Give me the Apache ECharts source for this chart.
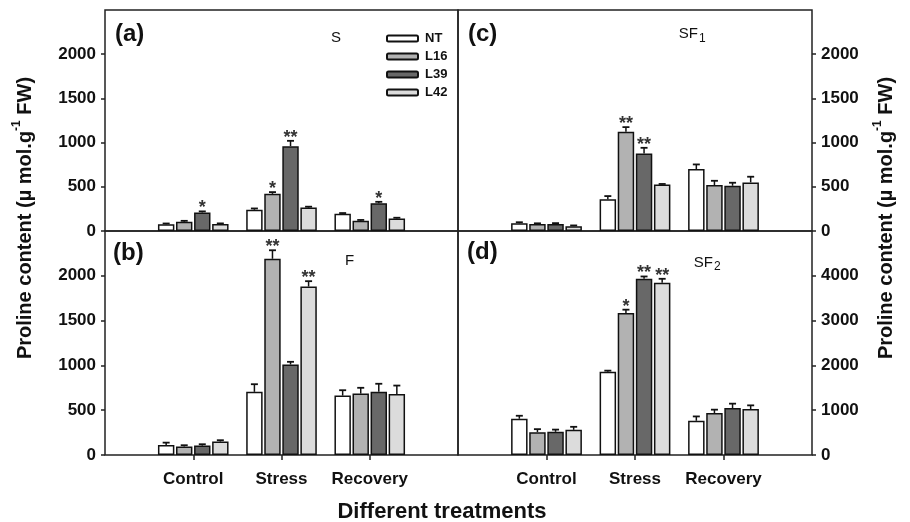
<!DOCTYPE html>
<html>
<head>
<meta charset="utf-8">
<script src="https://cdn.jsdelivr.net/npm/echarts@6/dist/echarts.min.js"></script>
<style>
  html, body { margin: 0; padding: 0; background: #ffffff; }
  #chart { width: 910px; height: 522px; }
</style>
</head>
<body>
<div id="chart"></div>
<script>
// ---------- DATA ----------
const categories = ['', 'Control', 'Stress', 'Recovery', ''];
const lineNames = ['NT', 'L16', 'L39', 'L42'];
const panelLetters = ['(a)', '(b)', '(c)', '(d)'];

// values per line [Control, Stress, Recovery]
const S_values  = [[75, 240, 195], [105, 420, 115], [210, 960, 315], [78, 265, 140]];
const S_errors  = [[10, 15, 8], [10, 20, 10], [12, 60, 15], [8, 10, 10]];
const S_stars   = [['', '', ''], ['', '*', ''], ['*', '**', '*'], ['', '', '']];

const F_values  = [[113, 705, 663], [94, 2190, 685], [105, 1010, 705], [150, 1880, 682]];
const F_errors  = [[25, 85, 60], [15, 95, 65], [15, 30, 90], [15, 60, 93]];
const F_stars   = [['', '', ''], ['', '**', ''], ['', '', ''], ['', '**', '']];

const SF1_values = [[87, 358, 700], [79, 1122, 520], [79, 878, 512], [55, 527, 550]];
const SF1_errors = [[12, 37, 53], [8, 53, 48], [10, 63, 34], [8, 5, 64]];
const SF1_stars  = [['', '', ''], ['', '**', ''], ['', '**', ''], ['', '', '']];

const SF2_values = [[809, 1858, 764], [510, 3169, 937], [517, 3933, 1049], [562, 3843, 1027]];
const SF2_errors = [[67, 25, 97], [67, 75, 75], [50, 52, 97], [67, 90, 81]];
const SF2_stars  = [['', '', ''], ['', '*', ''], ['', '**', ''], ['', '**', '']];

const yMax = [2500, 2500, 2500, 5000];
const yInterval = [500, 500, 500, 1000];
const yTicksLeft = [0, 500, 1000, 1500, 2000];
const yTicksSF2 = [0, 1000, 2000, 3000, 4000];

// ---------- STYLE ----------
const barColors = ['#ffffff', '#b2b2b2', '#686868', '#dcdcdc'];
const gridBoxes = [
  { left: 105, top: 10, width: 353, height: 221 },
  { left: 105, top: 231, width: 353, height: 224 },
  { left: 458, top: 10, width: 354, height: 221 },
  { left: 458, top: 231, width: 354, height: 224 }
];
const panels = [
  { vals: S_values, errs: S_errors, stars: S_stars },
  { vals: F_values, errs: F_errors, stars: F_stars },
  { vals: SF1_values, errs: SF1_errors, stars: SF1_stars },
  { vals: SF2_values, errs: SF2_errors, stars: SF2_stars }
];
const FONT = 'Liberation Sans, Arial, sans-serif';

const grid = gridBoxes.map(g => Object.assign({
  show: true, borderColor: '#222', borderWidth: 1.5, backgroundColor: 'transparent', containLabel: false
}, g));

const xAxis = gridBoxes.map((g, i) => {
  const bottom = (i === 1 || i === 3);
  return {
    type: 'category', gridIndex: i, data: categories, boundaryGap: false,
    axisLine: { show: false },
    axisTick: { show: bottom, length: 5, interval: idx => idx > 0 && idx < 4, lineStyle: { color: '#222', width: 1.5 } },
    axisLabel: { show: bottom, interval: 0, fontSize: 17, fontWeight: 'bold', color: '#111', fontFamily: FONT, margin: 16 },
    splitLine: { show: false }
  };
});

const yAxis = gridBoxes.map((g, i) => {
  const ticks = i === 3 ? yTicksSF2 : yTicksLeft;
  return {
    type: 'value', gridIndex: i, min: 0, max: yMax[i], interval: yInterval[i],
    position: i < 2 ? 'left' : 'right',
    axisLine: { show: false },
    axisTick: { show: true, length: 4, customValues: ticks, lineStyle: { color: '#222', width: 1.5 } },
    axisLabel: {
      fontSize: 17, fontWeight: 'bold', color: '#111', fontFamily: FONT, margin: 9,
      customValues: ticks, formatter: v => String(v)
    },
    splitLine: { show: false }
  };
});

const series = [];
panels.forEach((p, pi) => {
  lineNames.forEach((name, li) => {
    series.push({
      type: 'bar', name: name, xAxisIndex: pi, yAxisIndex: pi,
      data: ['-'].concat(p.vals[li]).concat(['-']),
      barGap: '10%', barCategoryGap: '20%',
      itemStyle: { color: barColors[li], borderColor: '#111', borderWidth: 1.5 },
      emphasis: { disabled: true }, silent: true
    });
  });
  // error bars + significance stars
  const errData = [];
  lineNames.forEach((name, li) => {
    p.vals[li].forEach((v, ci) => errData.push([ci + 1, v, p.errs[li][ci], li]));
  });
  series.push({
    type: 'custom', xAxisIndex: pi, yAxisIndex: pi, silent: true, z: 5,
    data: errData,
    renderItem: function (params, api) {
      const xi = api.value(0), v = api.value(1), e = api.value(2), li = api.value(3);
      const band = api.size([1, 0])[0];
      const w = band * 0.8 / 4.3;
      const base = api.coord([xi, v]);
      const cx = base[0] - band * 0.4 + li * w * 1.1 + w / 2;
      const top = api.coord([xi, v + e])[1];
      const ch = 3.5;
      const children = [
        { type: 'line', shape: { x1: cx, y1: base[1], x2: cx, y2: top }, style: { stroke: '#111', lineWidth: 1.5 } },
        { type: 'line', shape: { x1: cx - ch, y1: top, x2: cx + ch, y2: top }, style: { stroke: '#111', lineWidth: 1.8 } }
      ];
      const star = p.stars[li][xi - 1];
      if (star) {
        children.push({
          type: 'text', x: cx, y: top - 3,
          style: { text: star, font: 'bold 18px ' + FONT, fill: '#333', align: 'center', verticalAlign: 'middle' }
        });
      }
      return { type: 'group', children: children };
    }
  });
});

const nameRich = {
  a: { fontSize: 20, fontWeight: 'bold', fontFamily: FONT, fill: '#111', color: '#111', lineHeight: 28 },
  s: { fontSize: 12, fontWeight: 'bold', fontFamily: FONT, fill: '#111', color: '#111', lineHeight: 14, verticalAlign: 'top' }
};
const yName = '{a|Proline content (µ mol.g}{s|-1}{a| FW)}';

const graphic = [
  { type: 'text', x: 115, y: 34, style: { text: panelLetters[0], font: 'bold 24px ' + FONT, fill: '#111', align: 'left', verticalAlign: 'middle' } },
  { type: 'text', x: 113, y: 253, style: { text: panelLetters[1], font: 'bold 24px ' + FONT, fill: '#111', align: 'left', verticalAlign: 'middle' } },
  { type: 'text', x: 468, y: 34, style: { text: panelLetters[2], font: 'bold 24px ' + FONT, fill: '#111', align: 'left', verticalAlign: 'middle' } },
  { type: 'text', x: 467, y: 252, style: { text: panelLetters[3], font: 'bold 24px ' + FONT, fill: '#111', align: 'left', verticalAlign: 'middle' } },
  { type: 'text', x: 336, y: 38, style: { text: 'S', font: '15px ' + FONT, fill: '#111', align: 'center', verticalAlign: 'middle' } },
  { type: 'text', x: 349.5, y: 261, style: { text: 'F', font: '15px ' + FONT, fill: '#111', align: 'center', verticalAlign: 'middle' } },
  { type: 'text', x: 698, y: 34, style: { text: 'SF', font: '15px ' + FONT, fill: '#111', align: 'right', verticalAlign: 'middle' } },
  { type: 'text', x: 699, y: 39, style: { text: '1', font: '12px ' + FONT, fill: '#111', align: 'left', verticalAlign: 'middle' } },
  { type: 'text', x: 713, y: 263, style: { text: 'SF', font: '15px ' + FONT, fill: '#111', align: 'right', verticalAlign: 'middle' } },
  { type: 'text', x: 714, y: 267, style: { text: '2', font: '12px ' + FONT, fill: '#111', align: 'left', verticalAlign: 'middle' } },
  { type: 'text', x: 25, y: 218, rotation: Math.PI / 2, style: { text: yName, rich: nameRich, align: 'center', verticalAlign: 'middle' } },
  { type: 'text', x: 886, y: 218, rotation: Math.PI / 2, style: { text: yName, rich: nameRich, align: 'center', verticalAlign: 'middle' } },
  { type: 'text', x: 442, y: 512, style: { text: 'Different treatments', font: 'bold 22px ' + FONT, fill: '#111', align: 'center', verticalAlign: 'middle' } }
];

const option = {
  animation: false,
  backgroundColor: '#ffffff',
  grid: grid, xAxis: xAxis, yAxis: yAxis, series: series, graphic: graphic,
  legend: {
    data: lineNames, orient: 'vertical', left: 381, top: 27,
    itemWidth: 31, itemHeight: 6, itemGap: 5, icon: 'roundRect',
    textStyle: { fontSize: 13, fontWeight: 'bold', color: '#111', fontFamily: FONT, padding: [0, 0, 0, 2] },
    selectedMode: false
  }
};

const chart = echarts.init(document.getElementById('chart'), null, { renderer: 'canvas' });
chart.setOption(option);
</script>
</body>
</html>
